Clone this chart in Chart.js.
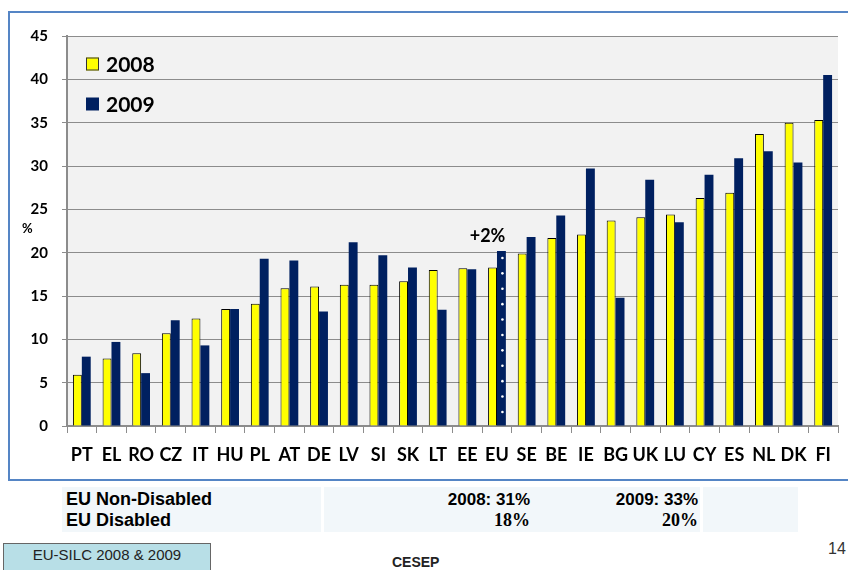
<!DOCTYPE html>
<html>
<head>
<meta charset="utf-8">
<script src="https://cdn.jsdelivr.net/npm/chart.js@4.4.1/dist/chart.umd.min.js"></script>
<style>
  html, body { margin: 0; padding: 0; background: #ffffff; width: 848px; height: 570px; overflow: hidden; position: relative; font-family: "Liberation Sans", Arial, sans-serif; }
  #frame { position: absolute; left: 8px; top: 11px; width: 860px; height: 466px; border: 2px solid #5585c5; box-sizing: content-box; }
  #c { position: absolute; left: 0; top: 0; }
  #pct { position: absolute; left: 22px; top: 220px; font: bold 13px Lato, sans-serif; color: #000; }
  #table { position: absolute; left: 62px; top: 487px; width: 736px; height: 45px; background: #f2f7fa; }
  .sep { position: absolute; top: 0; width: 3px; height: 45px; background: #ffffff; }
  .t { position: absolute; color: #000; white-space: nowrap; }
  .lab { font: bold 18px "Liberation Sans", Arial, sans-serif; left: 4px; }
  .num { font: bold 17px "Liberation Sans", Arial, sans-serif; text-align: right; }
  .ser { font: bold 18px "Liberation Serif", "Times New Roman", serif; text-align: right; }
  #src { position: absolute; left: 3px; top: 543px; width: 208px; height: 30px; background: #b8dfe7; border: 1px solid #666; box-sizing: border-box; font: 15px "Liberation Sans", Arial, sans-serif; color: #222; text-align: center; line-height: 22px; white-space: nowrap; }
  #cesep { position: absolute; left: 392px; top: 554px; font: bold 14px "Liberation Sans", Arial, sans-serif; color: #222; }
  #page { position: absolute; left: 828px; top: 540px; font: 16px "Liberation Sans", Arial, sans-serif; color: #333; }
</style>
</head>
<body>
<div id="frame"></div>
<canvas id="c" width="848" height="480"></canvas>
<div id="pct">%</div>
<div id="table">
  <div class="sep" style="left:259px"></div>
  <div class="sep" style="left:638px"></div>
  <div class="t lab" style="top:2px">EU Non-Disabled</div>
  <div class="t lab" style="top:23px">EU Disabled</div>
  <div class="t num" style="top:3px; right:268px">2008: 31%</div>
  <div class="t num" style="top:3px; right:100px">2009: 33%</div>
  <div class="t ser" style="top:23px; right:268px">18%</div>
  <div class="t ser" style="top:23px; right:100px">20%</div>
</div>
<div id="src">EU-SILC 2008 &amp; 2009</div>
<div id="cesep">CESEP</div>
<div id="page">14</div>
<script>
const countries = ["PT","EL","RO","CZ","IT","HU","PL","AT","DE","LV","SI","SK","LT","EE","EU","SE","BE","IE","BG","UK","LU","CY","ES","NL","DK","FI"];
const values2008 = [5.9,7.8,8.4,10.7,12.4,13.5,14.1,15.9,16.1,16.3,16.3,16.7,18.0,18.2,18.3,19.9,21.7,22.1,23.7,24.1,24.4,26.3,26.9,33.7,35.0,35.3];
const values2009 = [8.0,9.7,6.1,12.2,9.3,13.5,19.3,19.1,13.2,21.2,19.7,18.3,13.4,18.1,20.2,21.8,24.3,29.7,14.8,28.4,23.5,29.0,30.9,31.7,30.4,40.5];
const seriesLabels = ["2008","2009"];
const yTicks = [0,5,10,15,20,25,30,35,40,45];
const highlightCategory = "EU";
const highlightText = "+2%";

const YELLOW = "#ffff00";
const NAVY = "#002060";
const GRID = "#8c8c8c";

const bgPlugin = {
  id: "bg",
  beforeDraw(chart) {
    const a = chart.chartArea, ctx = chart.ctx;
    ctx.save();
    ctx.fillStyle = "#f2f2f2";
    ctx.fillRect(a.left, a.top, a.right - a.left, a.bottom - a.top);
    ctx.restore();
  }
};

const decoPlugin = {
  id: "deco",
  afterDatasetsDraw(chart) {
    const ctx = chart.ctx, a = chart.chartArea;
    const idx = countries.indexOf(highlightCategory);
    const b0 = chart.getDatasetMeta(0).data[idx];
    const b1 = chart.getDatasetMeta(1).data[idx];
    ctx.save();
    ctx.fillStyle = "#ffffff";
    for (let y = b1.y + 7; y < b1.base - 8; y += 15.4) {
      ctx.beginPath();
      ctx.arc(b1.x + 1, y, 1.3, 0, Math.PI * 2);
      ctx.fill();
    }
    ctx.fillStyle = "#000";
    ctx.font = "bold 18px Lato, sans-serif";
    ctx.textAlign = "center";
    ctx.textBaseline = "alphabetic";
    ctx.fillText(highlightText, b0.x - 5, b1.y - 9);
    ctx.font = "bold 21px Lato, sans-serif";
    ctx.textAlign = "left";
    ctx.textBaseline = "middle";
    const ds = chart.data.datasets;
    const rows = [a.top + 28, a.top + 68];
    ds.forEach((d, i) => {
      const y = rows[i];
      ctx.fillStyle = d.backgroundColor;
      ctx.fillRect(a.left + 19, y - 6.5, 13, 13);
      if (i === 0) {
        ctx.strokeStyle = "#333";
        ctx.lineWidth = 1;
        ctx.strokeRect(a.left + 19.5, y - 6, 12, 12);
      }
      ctx.fillStyle = "#000";
      ctx.fillText(d.label, a.left + 39, y + 1);
    });
    ctx.restore();
  }
};

new Chart(document.getElementById("c"), {
  type: "bar",
  data: {
    labels: countries,
    datasets: [
      { label: seriesLabels[0], data: values2008, backgroundColor: YELLOW, borderColor: "#000", borderWidth: 1 },
      { label: seriesLabels[1], data: values2009, backgroundColor: NAVY, borderWidth: 0 }
    ]
  },
  options: {
    responsive: false,
    animation: false,
    devicePixelRatio: 1,
    layout: { padding: { top: 36, right: 10, left: 0, bottom: 0 } },
    datasets: { bar: { categoryPercentage: 0.6, barPercentage: 1.0 } },
    plugins: { legend: { display: false }, tooltip: { enabled: false } },
    scales: {
      x: {
        afterFit(s) { s.height = 54; },
        grid: { display: true, drawOnChartArea: false, drawTicks: true, tickLength: 7, color: GRID, offset: true },
        border: { display: true, color: GRID, width: 2 },
        ticks: { color: "#000", font: { family: "Lato", weight: "bold", size: 18 }, padding: 11, maxRotation: 0, autoSkip: false }
      },
      y: {
        min: 0, max: 45,
        afterFit(s) { s.width = 67; },
        afterBuildTicks(s) { s.ticks = yTicks.map(v => ({ value: v })); },
        grid: { color: GRID, lineWidth: 1, tickLength: 5, drawTicks: true },
        border: { display: true, color: GRID, width: 2 },
        ticks: { color: "#000", font: { family: "Lato", weight: "bold", size: 15 }, padding: 14 }
      }
    }
  },
  plugins: [bgPlugin, decoPlugin]
});
</script>
</body>
</html>
